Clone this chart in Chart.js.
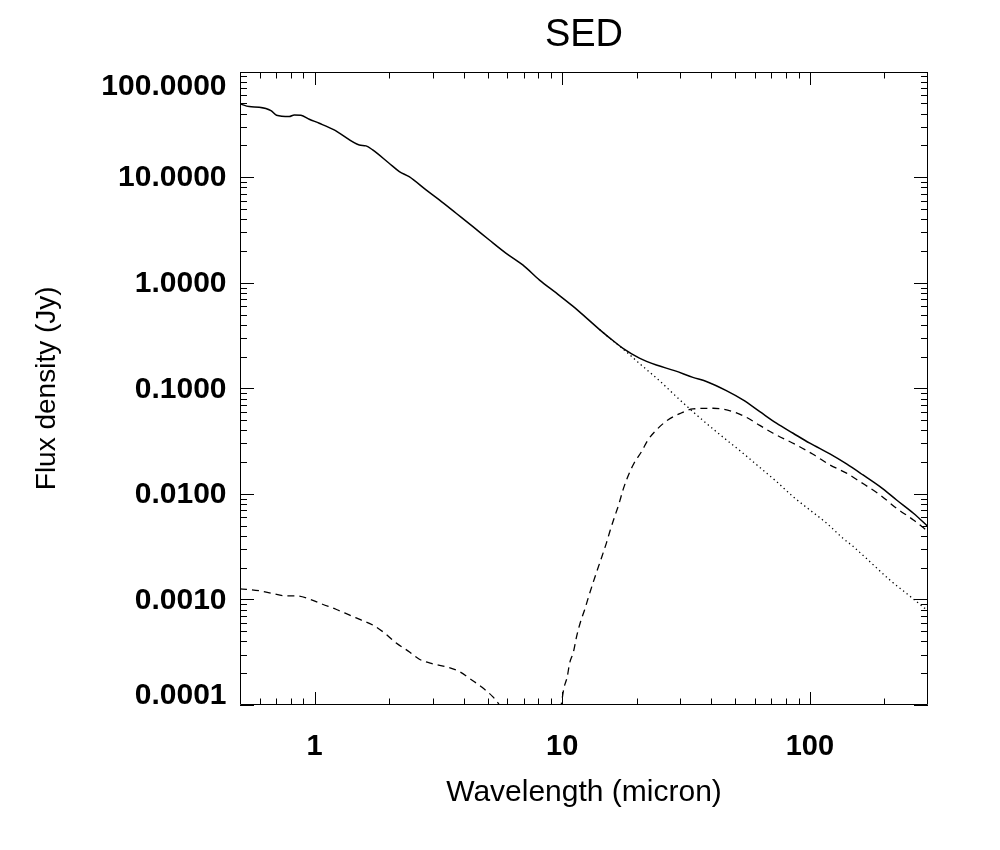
<!DOCTYPE html>
<html>
<head>
<meta charset="utf-8">
<script src="https://cdn.jsdelivr.net/npm/chart.js@4.4.1/dist/chart.umd.min.js"></script>
<style>
  html, body { margin: 0; padding: 0; background: #ffffff; }
  #wrap { width: 1000px; height: 850px; }
</style>
</head>
<body>
<div id="wrap"><canvas id="c" width="1000" height="850"></canvas></div>
<script>
// ---- Data ----
const totalWavelength = [0.5, 0.545, 0.598, 0.667, 0.702, 0.79, 0.828, 0.881, 0.952, 1.045,
  1.2, 1.26, 1.516, 1.614, 1.717, 2.0, 2.2, 2.41, 2.82, 3.19,
  3.73, 4.36, 5.08, 5.94, 6.93, 8.1, 9.46, 11.04, 11.75, 14.16,
  16.54, 17.6, 20.5, 24.0, 28.4, 33.7, 38.2, 46.0, 53.7, 62.8,
  73.3, 85.6, 100, 120.5, 140.7, 164, 192, 224, 262, 300];
const totalFlux = [49.5, 46.6, 46.0, 42.7, 38.6, 37.5, 38.9, 38.6, 35.4, 32.4,
  28.0, 26.1, 20.2, 19.8, 18.1, 13.55, 11.3, 10.1, 7.57, 6.09,
  4.55, 3.40, 2.54, 1.90, 1.475, 1.06, 0.80, 0.60, 0.53, 0.36,
  0.267, 0.239, 0.193, 0.166, 0.147, 0.127, 0.116, 0.095, 0.0776, 0.0601,
  0.0467, 0.0375, 0.0302, 0.0239, 0.0192, 0.0151, 0.0117, 0.00875, 0.00655, 0.0049];

const stellarWavelength = [14.16, 16.54, 17.6, 20.5, 24.8, 28.9, 33.7, 39.4, 46.0, 53.7,
  62.8, 73.3, 85.6, 100, 117, 136, 149, 169, 211, 254, 283, 300];
const stellarFlux = [0.36, 0.265, 0.236, 0.172, 0.117, 0.0834, 0.0601, 0.0438, 0.0325, 0.0243,
  0.0178, 0.0131, 0.0094, 0.00704, 0.00526, 0.0038, 0.0032, 0.00245, 0.00152, 0.00107, 0.00087, 0.00078];

const dustWavelength = [0.5, 0.598, 0.676, 0.766, 0.854, 0.952, 1.077, 1.22, 1.38, 1.54,
  1.717, 1.91, 2.13, 2.41, 2.65, 2.96, 3.40, 3.85, 4.22, 4.71,
  5.24, 5.58, 5.9, 7.5, 9.7, 9.91, 10.16, 10.48, 10.71, 11.11,
  11.43, 11.86, 12.31, 12.78, 13.3, 13.86, 14.46, 15.07, 15.64, 16.28,
  16.9, 17.6, 18.4, 19.5, 20.9, 22.2, 24.0, 26.7, 30.1, 33.7,
  40.6, 49.0, 55.5, 62.8, 71.1, 88.4, 103, 120.5, 140.7, 159,
  192, 224, 262, 300];
const dustFlux = [0.00126, 0.00121, 0.00114, 0.00108, 0.00108, 0.00101, 0.0009, 0.000807, 0.000713, 0.000639,
  0.000573, 0.000484, 0.000389, 0.00032, 0.000271, 0.000248, 0.00023, 0.000207, 0.000179, 0.000149,
  0.00012, 0.0001, 0.00008, null, 0.00007, 0.0001, 0.000144, 0.000185, 0.000248, 0.00032,
  0.000444, 0.000615, 0.000794, 0.00106, 0.00142, 0.0019, 0.00254, 0.0034, 0.00455, 0.00608,
  0.00785, 0.0109, 0.01455, 0.0195, 0.0251, 0.0324, 0.0403, 0.0501, 0.058, 0.0637,
  0.0647, 0.0601, 0.053, 0.0445, 0.0375, 0.0290, 0.0237, 0.0188, 0.0157, 0.0131,
  0.00977, 0.0073, 0.00566, 0.0044];

// ---- Axis ticks / labels ----
const xRange = [0.5, 300];
const yRange = [0.0001, 100];
const xMajorTicks = [1, 10, 100];
const xTickLabels = ['1', '10', '100'];
const xMinorTicks = [0.6, 0.7, 0.8, 0.9, 2, 3, 4, 5, 6, 7, 8, 9, 20, 30, 40, 50, 60, 70, 80, 90, 200];
const yMajorTicks = [0.0001, 0.001, 0.01, 0.1, 1, 10, 100];
const yTickLabels = ['0.0001', '0.0010', '0.0100', '0.1000', '1.0000', '10.0000', '100.0000'];
const yMinorMultipliers = [2, 3, 4, 5, 6, 7, 8, 9];

const titleText = 'SED';
const xTitle = 'Wavelength (micron)';
const yTitle = 'Flux density (Jy)';

const FAMILY = '"Liberation Sans", Arial, Helvetica, sans-serif';
Chart.defaults.font.family = FAMILY;
Chart.defaults.color = '#000';

const toPoints = (xs, ys) => xs.map((x, i) => ({ x: x, y: ys[i] }));

function labelForX(v) {
  for (let i = 0; i < xMajorTicks.length; i++) {
    if (Math.abs(Math.log10(v) - Math.log10(xMajorTicks[i])) < 1e-6) return xTickLabels[i];
  }
  return '';
}

const idlAxes = {
  id: 'idlAxes',
  afterDraw(chart) {
    const { ctx, chartArea } = chart;
    const xs = chart.scales.x, ys = chart.scales.y;
    const L = Math.round(chartArea.left), R = Math.round(chartArea.right);
    const T = Math.round(chartArea.top), B = Math.round(chartArea.bottom);
    ctx.save();
    ctx.strokeStyle = '#000';
    ctx.lineWidth = 1;
    ctx.beginPath();
    ctx.rect(L + 0.5, T + 0.5, R - L - 1, B - T - 1);
    ctx.stroke();

    ctx.beginPath();
    const xTick = (v, len) => {
      const px = Math.round(xs.getPixelForValue(v)) + 0.5;
      ctx.moveTo(px, B); ctx.lineTo(px, B - len);
      ctx.moveTo(px, T); ctx.lineTo(px, T + len);
    };
    xMajorTicks.forEach(v => xTick(v, 13));
    xMinorTicks.forEach(v => xTick(v, 6.5));

    const yTick = (v, len) => {
      const py = Math.round(ys.getPixelForValue(v)) + 0.5;
      ctx.moveTo(L, py); ctx.lineTo(L + len, py);
      ctx.moveTo(R, py); ctx.lineTo(R - len, py);
    };
    yMajorTicks.forEach(v => yTick(v, 14));
    yMajorTicks.slice(0, -1).forEach(d => yMinorMultipliers.forEach(m => yTick(d * m, 7)));
    ctx.stroke();

    ctx.fillStyle = '#000';
    ctx.font = 'bold 30px ' + FAMILY;
    ctx.textAlign = 'right';
    ctx.textBaseline = 'middle';
    yMajorTicks.forEach((v, i) => {
      let py = ys.getPixelForValue(v) + 1;
      py = Math.max(T + 15, Math.min(B - 9.5, py));
      ctx.fillText(yTickLabels[i], 226.5, py);
    });
    ctx.restore();
  }
};

new Chart(document.getElementById('c'), {
  type: 'line',
  data: {
    datasets: [
      { label: 'Total', data: toPoints(totalWavelength, totalFlux), borderColor: '#000',
        borderWidth: 1.5, pointRadius: 0, fill: false, cubicInterpolationMode: 'monotone' },
      { label: 'Stellar', data: toPoints(stellarWavelength, stellarFlux), borderColor: '#000',
        borderWidth: 1.3, borderDash: [1.3, 3.2], pointRadius: 0, fill: false, cubicInterpolationMode: 'monotone' },
      { label: 'Dust', data: toPoints(dustWavelength, dustFlux), borderColor: '#000',
        borderWidth: 1.3, borderDash: [7, 5], pointRadius: 0, fill: false, spanGaps: false,
        cubicInterpolationMode: 'monotone' }
    ]
  },
  options: {
    responsive: false,
    animation: false,
    devicePixelRatio: 1,
    layout: { padding: { left: 0, right: 72, top: 0, bottom: 0 } },
    plugins: {
      legend: { display: false },
      tooltip: { enabled: false },
      title: { display: true, text: titleText, color: '#000', fullSize: false,
        font: { size: 38, weight: 'normal', family: FAMILY }, padding: { top: 13, bottom: 13 } }
    },
    scales: {
      x: {
        type: 'logarithmic', min: xRange[0], max: xRange[1], position: 'bottom',
        grid: { display: false, drawTicks: false }, border: { display: false },
        ticks: { autoSkip: false, maxRotation: 0, minRotation: 0, padding: 25, color: '#000',
          font: { size: 29, weight: 'bold', family: FAMILY }, callback: (v) => labelForX(v) },
        title: { display: true, text: xTitle, color: '#000',
          font: { size: 30, weight: 'normal', family: FAMILY }, padding: { top: 0, bottom: 39 } },
        afterFit: (s) => { s.height = 145; }
      },
      y: {
        type: 'logarithmic', min: yRange[0], max: yRange[1], position: 'left',
        grid: { display: false, drawTicks: false }, border: { display: false },
        ticks: { display: false },
        title: { display: true, text: yTitle, color: '#000',
          font: { size: 28, weight: 'normal', family: FAMILY }, padding: { top: 30, bottom: 0 } },
        afterFit: (s) => { s.width = 240; }
      }
    }
  },
  plugins: [idlAxes]
});
</script>
</body>
</html>
